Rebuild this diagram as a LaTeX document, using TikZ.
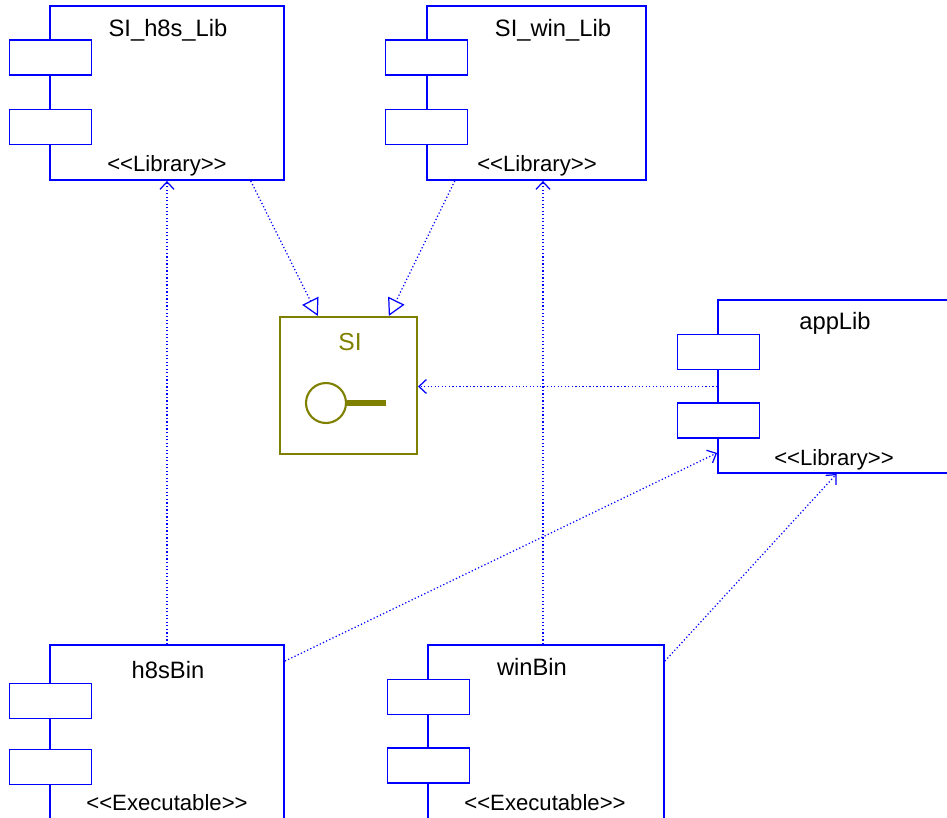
\documentclass[tikz,border=0pt]{standalone}
\usepackage{fontspec}
\setmainfont{Liberation Sans}
\usetikzlibrary{arrows.meta,calc}
\definecolor{umlblue}{RGB}{0,0,255}
\definecolor{ifolive}{RGB}{128,128,0}

\begin{document}
\begin{tikzpicture}[x=0.02cm,y=-0.02cm, semithick]
    \tikzset{comp/.style={draw=umlblue,line width=1.1pt,rectangle,inner sep=0pt,minimum height=3.48cm}};
    \tikzset{tab/.style={draw=umlblue,fill=white,line width=1.1pt,rectangle,inner sep=0pt,minimum width=1.64cm,minimum height=0.7cm}};
    \tikzset{title/.style={anchor=base,inner sep=0pt,font=\fontsize{13.5}{16}\selectfont}};
    \tikzset{stereo/.style={anchor=base,inner sep=0pt,font=\fontsize{12.6}{15}\selectfont}};
    \tikzset{dep/.style={draw=umlblue,line width=0.7pt,dash pattern=on 0.7pt off 1.3pt,-{Straight Barb[length=1.5mm,width=2.8mm]}}};
    \tikzset{real/.style={draw=umlblue,line width=0.7pt,dash pattern=on 0.7pt off 1.3pt,-{Triangle[open,fill=white,length=3.4mm,width=3.6mm]}}};
    \useasboundingbox (0,0) rectangle (947,818);

    % component boxes
    \node[comp, minimum width=4.68cm] (hlib) at (167,93) {};
    \node[comp, minimum width=4.38cm] (wlib) at (536.5,93) {};
    \node[comp, minimum width=4.74cm, minimum height=3.46cm] (app) at (836.5,386.5) {};
    \node[comp, minimum width=4.68cm, minimum height=3.5cm] (hbin) at (167,732.5) {};
    \node[comp, minimum width=4.72cm, minimum height=3.5cm] (wbin) at (546,732.5) {};

    % tabs
    \node[tab] (hlibA) at (50.5,57.5) {};
    \node[tab] (hlibB) at (50.5,127) {};
    \node[tab] (wlibA) at (426.5,57.5) {};
    \node[tab] (wlibB) at (426.5,127) {};
    \node[tab] (appA) at (718.5,352) {};
    \node[tab] (appB) at (718.5,420.5) {};
    \node[tab] (hbinA) at (50.5,701) {};
    \node[tab] (hbinB) at (50.5,767) {};
    \node[tab] (wbinA) at (428.5,697) {};
    \node[tab] (wbinB) at (428.5,765.5) {};

    % names and stereotypes
    \node[title] (hlibT) at (168,36) {SI\_h8s\_Lib};
    \node[stereo] (hlibS) at (167,171) {<{}<Library>{}>};
    \node[title] (wlibT) at (553,36) {SI\_win\_Lib};
    \node[stereo] (wlibS) at (537,171) {<{}<Library>{}>};
    \node[title] (appT) at (835,329) {appLib};
    \node[stereo] (appS) at (834,465) {<{}<Library>{}>};
    \node[title] (hbinT) at (168,678) {h8sBin};
    \node[stereo] (hbinS) at (167,810) {<{}<Executable>{}>};
    \node[title] (wbinT) at (532,675) {winBin};
    \node[stereo] (wbinS) at (545,810) {<{}<Executable>{}>};

    % interface SI
    \node[draw=ifolive, line width=1.2pt, minimum size=2.74cm, inner sep=0pt] (si) at (348.5,385.5) {};
    \node[title, text=ifolive, font=\fontsize{14}{16}\selectfont] (siT) at (350,350) {SI};
    \node[draw=ifolive, circle, line width=1.2pt, minimum size=0.8cm, inner sep=0pt] (siB) at (326,403) {};
    \coordinate (siE) at (386,403);
    \draw[ifolive, line width=3pt] (siB.east) -- (siE);

    {
      \path
        (hbin.north) edge[dep] (hbin.north |- hlib.south)
        ($(wbin.north)+(-3,0)$) edge[dep] ($(wbin.north |- wlib.south)+(-3,0)$)
        ($(hlib.south)!0.71!(hlib.south east)$) edge[real] ($(si.north west)!0.28!(si.north east)$)
        ($(wlib.south west)!0.13!(wlib.south east)$) edge[real] ($(si.north west)!0.79!(si.north east)$)
        (app.west) edge[dep] (si.east |- app.west)
        ($(hbin.north east)+(0,17)$) edge[dep] ($(app.south west)+(0,-21)$)
        ($(wbin.north east)+(0,17)$) edge[dep] (app.south)
        ;
      }

\end{tikzpicture}
\end{document}
